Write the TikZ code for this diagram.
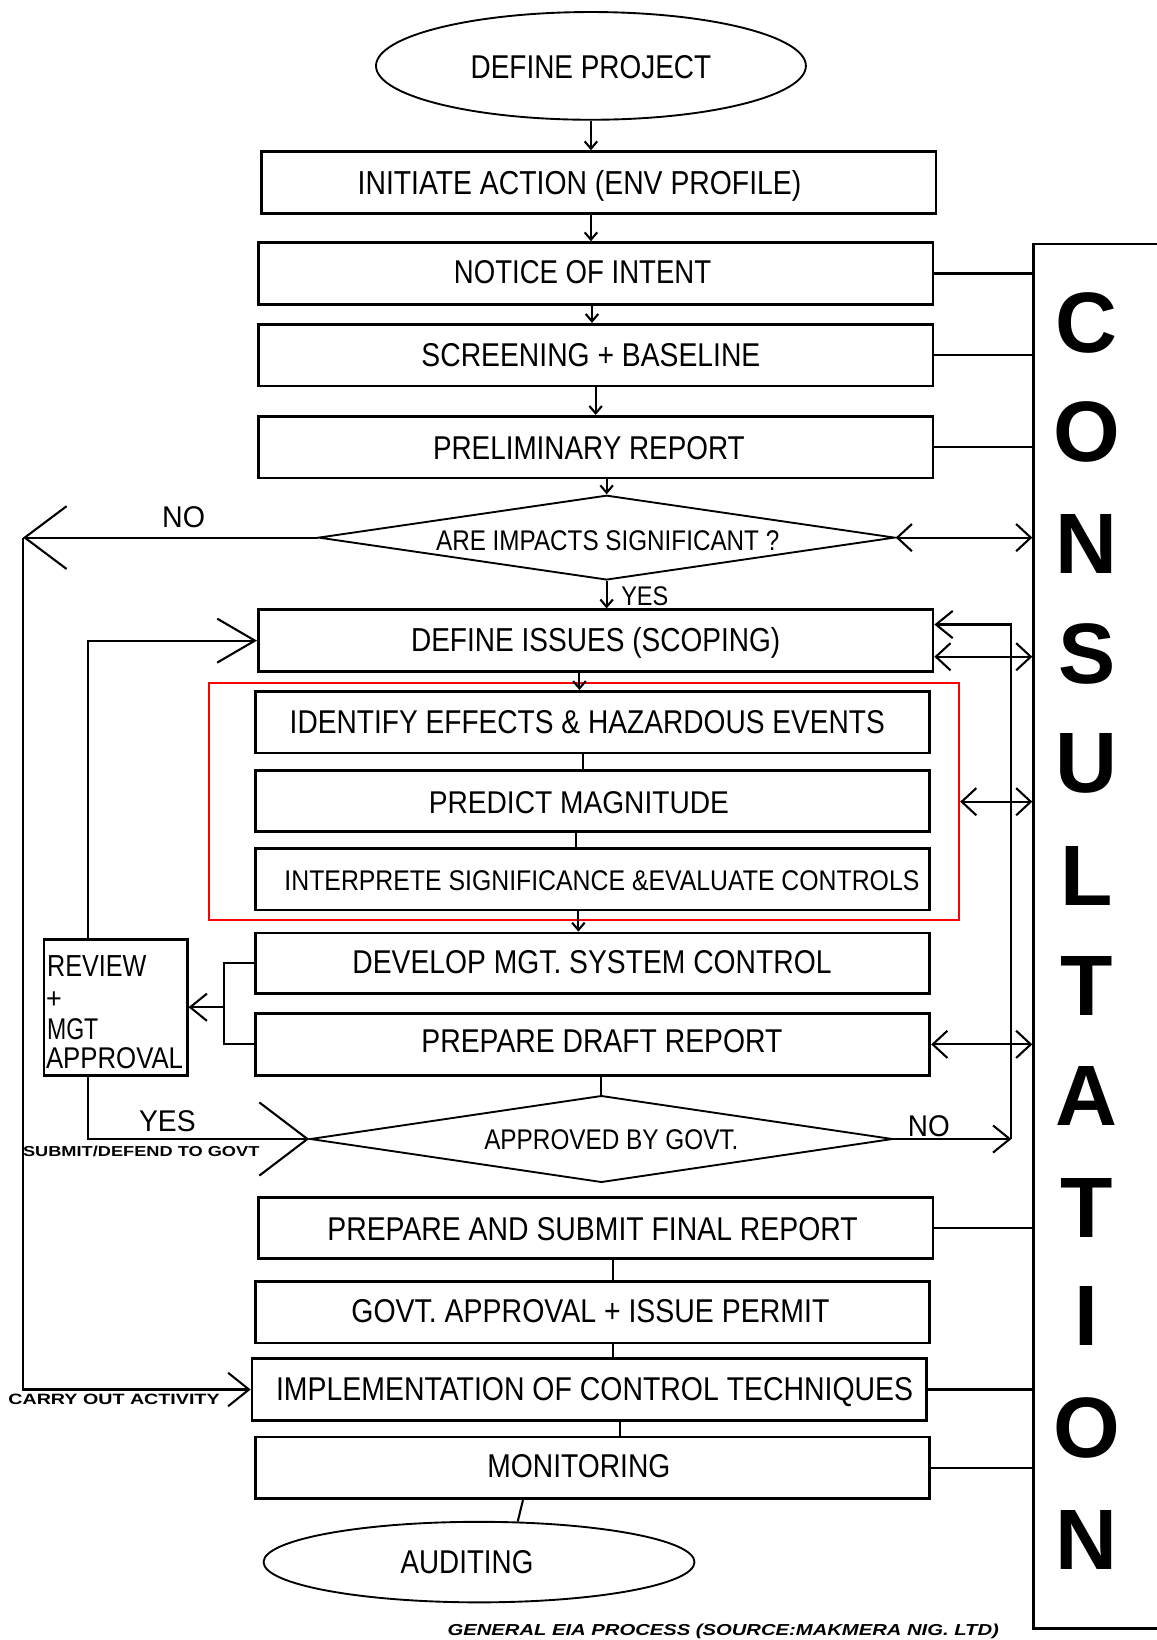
\documentclass[tikz,border=0pt]{standalone}
\usepackage{fontspec}
\setmainfont{Liberation Sans}
\usepackage{graphicx}
\usetikzlibrary{arrows.meta,shapes.geometric,calc}
\newcommand\txtn[7][base]{\node[anchor=#1,inner sep=0pt,outer sep=0pt] (#2) at (#3,#4) {\resizebox{#5pt}{#6pt}{#7}};}
\begin{document}
\begin{tikzpicture}[x=1pt,y=-1pt,
  box/.style={draw,line width=2.6pt,inner sep=0pt,minimum width=645pt,minimum height=59pt},
  shp/.style={draw,line width=1.8pt,inner sep=0pt},
  conn/.style={line width=2pt},
  arS/.style={conn,-{Straight Barb[length=7pt,width=12pt]}},
  arC/.style={conn,{Straight Barb[length=14pt,width=26pt]}-{Straight Barb[length=14pt,width=26pt]}},
  arM/.style={conn,-{Straight Barb[length=16pt,width=26pt]}},
  arNo/.style={conn,-{Straight Barb[length=40pt,width=60pt]}},
  arIss/.style={conn,-{Straight Barb[length=36pt,width=42pt]}},
  arDtwo/.style={conn,-{Straight Barb[length=46pt,width=70pt]}},
  arImpl/.style={conn,-{Straight Barb[length=20pt,width=32pt]}},
  cons/.style={inner sep=0pt,font=\bfseries\fontsize{82}{82}\selectfont}]
\useasboundingbox (0,0) rectangle (1106,1568);
\fill[white] (0,0) rectangle (1106,1568);
\clip (0,0) rectangle (1106,1568);

% shapes
\node[shp,ellipse,minimum width=411pt,minimum height=103pt] (dp) at (565,63) {};
\node[box] (b-init) at (572.5,174.5) {};
\node[box] (b-notice) at (569.5,261.5) {};
\node[box] (b-screen) at (569.5,339.5) {};
\node[box] (b-prelim) at (569.5,427.5) {};
\node[shp,diamond,minimum width=551pt,minimum height=81pt] (d1) at (580,514) {};
\node[box] (b-issues) at (569.5,612.5) {};
\node[draw=red,line width=2pt,inner sep=0pt,minimum width=717pt,minimum height=227pt] (red) at (558.5,766.5) {};
\node[box] (b-identify) at (566.5,690.5) {};
\node[box,minimum height=58pt] (b-predict) at (566.5,766) {};
\node[box] (b-interp) at (566.5,840.5) {};
\node[box,minimum height=58pt] (b-develop) at (566.5,921) {};
\node[box] (b-draft) at (566.5,998.5) {};
\node[shp,diamond,minimum width=557pt,minimum height=83pt] (d2) at (575,1089) {};
\node[box,minimum height=58pt] (b-final) at (569.5,1174) {};
\node[box] (b-permit) at (566.5,1254.5) {};
\node[box] (b-impl) at (563.5,1328.5) {};
\node[box] (b-monitor) at (566.5,1403.5) {};
\node[shp,ellipse,minimum width=412pt,minimum height=77pt] (aud) at (458,1493.5) {};
\node[draw,line width=2.5pt,inner sep=0pt,minimum width=137pt,minimum height=130pt] (review) at (110.5,963) {};
\node[draw,line width=2.5pt,inner sep=0pt,anchor=north west,minimum width=160pt,minimum height=1324pt] (consult) at (987,232) {};

% texts
\txtn{t-dp}{565}{75}{230}{22}{DEFINE PROJECT}
\txtn{t-init}{554}{186}{424}{23}{INITIATE ACTION (ENV PROFILE)}
\txtn{t-notice}{557}{271}{246}{22}{NOTICE OF INTENT}
\txtn{t-screen}{565}{350}{324}{22}{SCREENING + BASELINE}
\txtn{t-prelim}{563}{439}{298}{22}{PRELIMINARY REPORT}
\txtn{t-done}{581}{526}{328}{19}{ARE IMPACTS SIGNIFICANT ?}
\txtn{t-noone}{175.5}{504}{41}{20}{NO}
\txtn{t-yesone}{616.5}{579}{45}{18}{YES}
\txtn{t-issues}{569.5}{623}{353}{23}{DEFINE ISSUES (SCOPING)}
\txtn{t-identify}{561.5}{701}{569}{22}{IDENTIFY EFFECTS \& HAZARDOUS EVENTS}
\txtn{t-predict}{553.5}{778}{287}{21}{PREDICT MAGNITUDE}
\txtn{t-interp}{575.5}{851}{607}{19}{INTERPRETE SIGNIFICANCE \&EVALUATE CONTROLS}
\txtn{t-develop}{566}{931}{458}{22}{DEVELOP MGT. SYSTEM CONTROL}
\txtn{t-draft}{575.5}{1006}{345}{22}{PREPARE DRAFT REPORT}
\txtn{t-dtwo}{584.5}{1099}{243}{19}{APPROVED BY GOVT.}
\txtn{t-notwo}{888}{1087}{40}{20}{NO}
\txtn{t-yestwo}{160}{1082}{54}{20}{YES}
\txtn{t-submit}{135}{1106}{226}{10}{\bfseries SUBMIT/DEFEND TO GOVT}
\txtn{t-final}{566.5}{1186}{507}{22}{PREPARE AND SUBMIT FINAL REPORT}
\txtn{t-permit}{564.5}{1264}{457}{22}{GOVT. APPROVAL + ISSUE PERMIT}
\txtn{t-impl}{568.5}{1339}{609}{22}{IMPLEMENTATION OF CONTROL TECHNIQUES}
\txtn{t-carry}{109}{1343}{202}{10}{\bfseries CARRY OUT ACTIVITY}
\txtn{t-monitor}{553.5}{1413}{175}{22}{MONITORING}
\txtn{t-aud}{446.5}{1504}{127}{22}{AUDITING}
\txtn{t-foot}{691.5}{1564}{527}{11}{\bfseries\itshape GENERAL EIA PROCESS (SOURCE:MAKMERA NIG. LTD)}
\txtn[base west]{t-rev}{45}{934}{95}{20}{REVIEW}
\txtn[base west]{t-plus}{44}{964}{15}{16}{+}
\txtn[base west]{t-mgt}{45}{994}{49}{20}{MGT}
\txtn[base west]{t-appr}{44}{1022}{131}{20}{APPROVAL}

\foreach \L/\yy [count=\i] in {C/309,O/413,N/520,S/625,U/730,L/838,T/943,A/1048,T/1155,I/1258,O/1365,N/1472}
  \node[cons] (cons-\i) at (1039,\yy) {\L};

% helper coordinates
\coordinate (rx) at (84,0);
\coordinate (lx) at (22,0);
\coordinate (bx) at (214,0);
\coordinate (vx) at (967,0);
\coordinate (k1) at ($(b-final.south)+(16.5,0)$);
\coordinate (k2) at ($(b-impl.south)+(29.5,0)$);
\coordinate (iss-up) at ($(b-issues.north east)!0.25!(b-issues.south east)$);
\coordinate (iss-dn) at ($(b-issues.north east)!0.75!(b-issues.south east)$);

% main vertical flow
\draw[arS] (dp.south) -- (dp.south |- b-init.north);
\draw[arS] (b-init.south -| dp) -- (b-notice.north -| dp);
\draw[arS] ($(b-notice.south)+(-3.5,0)$) -- ($(b-screen.north)+(-3.5,0)$);
\draw[arS] (b-screen.south) -- (b-prelim.north);
\draw[arS] (d1.north |- b-prelim.south) -- (d1.north);
\draw[arS] (d1.south) -- (d1.south |- b-issues.north);
\draw[arS] ($(b-issues.south)+(-15.5,0)$) -- ($(b-identify.north)+(-12.5,0)$);
\draw[conn] ($(b-identify.south)+(-9.5,0)$) -- ($(b-predict.north)+(-9.5,0)$);
\draw[conn] ($(b-predict.south)+(-15.5,0)$) -- ($(b-interp.north)+(-15.5,0)$);
\draw[arS] ($(b-interp.south)+(-13.5,0)$) -- ($(b-develop.north)+(-13.5,0)$);
\draw[conn] (d2.north |- b-draft.south) -- (d2.north);
\draw[conn] (k1) -- (k1 |- b-permit.north);
\draw[conn] (k1 |- b-permit.south) -- (k1 |- b-impl.north);
\draw[conn] (k2) -- (k2 |- b-monitor.north);
\draw[conn] ($(b-monitor.south)+(-66.5,0)$) -- ($(aud.north)+(37,0.6)$);

% left side loops
\draw[arNo] (d1.west) -- (d1.west -| lx);
\draw[arImpl] (d1.west -| lx) -- (lx |- b-impl.west) -- (b-impl.west);
\draw[arIss] (review.north -| rx) -- (rx |- b-issues.west) -- (b-issues.west);
\draw[arDtwo] (review.south -| rx) -- (rx |- d2.west) -- (d2.west);
\draw[conn] (b-develop.west) -- (bx |- b-develop.west) -- (bx |- b-draft.west) -- (b-draft.west);
\draw[arM] (bx |- review.east) -- (review.east);

% right side loop
\draw[arM] (d2.east) -- (d2.east -| vx);
\draw[arM] (d2.east -| vx) -- (vx |- iss-up) -- (iss-up);

% consultation links
\draw[arC] (d1.east) -- (d1.east -| consult.west);
\draw[arC] (iss-dn) -- (iss-dn -| consult.west);
\draw[arC] (red.east) -- (red.east -| consult.west);
\draw[arC] (b-draft.east) -- (b-draft.east -| consult.west);
\draw[conn] (b-notice.east) -- (b-notice.east -| consult.west);
\draw[conn] (b-screen.east) -- (b-screen.east -| consult.west);
\draw[conn] (b-prelim.east) -- (b-prelim.east -| consult.west);
\draw[conn] (b-final.east) -- (b-final.east -| consult.west);
\draw[conn] (b-impl.east) -- (b-impl.east -| consult.west);
\draw[conn] (b-monitor.east) -- (b-monitor.east -| consult.west);
\end{tikzpicture}
\end{document}
